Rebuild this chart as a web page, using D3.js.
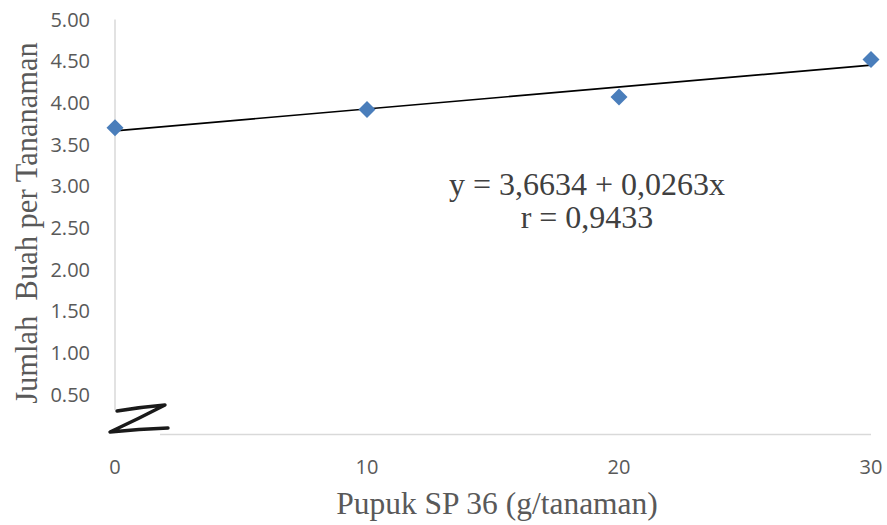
<!DOCTYPE html>
<html>
<head>
<meta charset="utf-8">
<script src="https://cdn.jsdelivr.net/npm/d3@7"></script>
<style>
  body { margin: 0; background: #fff; }
  svg { display: block; }
</style>
</head>
<body>
<svg width="887" height="525"></svg>
<script>
const svg = d3.select("svg");

// data
const doses = [0, 10, 20, 30];
const fruitCount = [3.70, 3.92, 4.07, 4.52];
const yTicks = [0.5, 1, 1.5, 2, 2.5, 3, 3.5, 4, 4.5, 5];
const xTicks = [0, 10, 20, 30];
const intercept = 3.6634;
const slope = 0.0263;
const eqLines = ["y = 3,6634 + 0,0263x", "r = 0,9433"];

const x = d3.scaleLinear().domain([0, 30]).range([115, 871]);
const y = d3.scaleLinear().domain([0, 5]).range([436, 19.5]);

const grey = "#595959";

// axis lines
svg.append("line")
  .attr("x1", x(0)).attr("x2", x(0))
  .attr("y1", y(5)).attr("y2", 410)
  .attr("stroke", "#d9d9d9").attr("stroke-width", 1.5);

svg.append("line")
  .attr("x1", 160).attr("x2", x(30))
  .attr("y1", 434.5).attr("y2", 434.5)
  .attr("stroke", "#d9d9d9").attr("stroke-width", 1.5);

// y tick labels
svg.selectAll(".ytick").data(yTicks).enter().append("text")
  .attr("class", "ytick")
  .attr("x", 90)
  .attr("y", d => y(d))
  .attr("dy", "0.36em")
  .attr("text-anchor", "end")
  .attr("font-family", "'Open Sans', 'Liberation Sans', sans-serif")
  .attr("font-size", 20)
  .attr("fill", grey)
  .text(d => d3.format(".2f")(d));

// x tick labels
svg.selectAll(".xtick").data(xTicks).enter().append("text")
  .attr("class", "xtick")
  .attr("x", d => x(d))
  .attr("y", 474)
  .attr("text-anchor", "middle")
  .attr("font-family", "'Open Sans', 'Liberation Sans', sans-serif")
  .attr("font-size", 20)
  .attr("fill", grey)
  .text(d => d);

// axis break mark
const brk = svg.append("g");
brk.append("path")
  .attr("d", "M98,432 L150,398 L185,414 L133,449 Z")
  .attr("fill", "#fff");
brk.append("path")
  .attr("d", "M117,411 Q141,407 165,405 Q138,419 110,432 Q139,429 168,428")
  .attr("fill", "none")
  .attr("stroke", "#1a1a1a")
  .attr("stroke-width", 3.4)
  .attr("stroke-linecap", "round")
  .attr("stroke-linejoin", "round");

// trend line
svg.append("line")
  .attr("x1", x(0)).attr("y1", y(intercept))
  .attr("x2", x(30)).attr("y2", y(intercept + slope * 30))
  .attr("stroke", "#000").attr("stroke-width", 1.6);

// markers
svg.selectAll(".pt").data(doses).enter().append("path")
  .attr("class", "pt")
  .attr("transform", (d, i) => `translate(${x(d)},${y(fruitCount[i])})`)
  .attr("d", d3.symbol(d3.symbolDiamond2, 185)())
  .attr("fill", "#4a7ebb");

// equation
svg.selectAll(".eq").data(eqLines).enter().append("text")
  .attr("class", "eq")
  .attr("x", 587)
  .attr("y", (d, i) => 195 + i * 33)
  .attr("text-anchor", "middle")
  .attr("font-family", "'Liberation Serif', serif")
  .attr("font-size", 32)
  .attr("fill", "#404040")
  .text(d => d);

// axis titles
svg.append("text")
  .attr("transform", "translate(37,223) rotate(-90)")
  .attr("text-anchor", "middle")
  .attr("font-family", "'Liberation Serif', serif")
  .attr("font-size", 30.5)
  .attr("fill", grey)
  .attr("xml:space", "preserve")
  .text("Jumlah  Buah per Tananaman");

svg.append("text")
  .attr("x", 497)
  .attr("y", 514)
  .attr("text-anchor", "middle")
  .attr("font-family", "'Liberation Serif', serif")
  .attr("font-size", 31.5)
  .attr("fill", grey)
  .text("Pupuk SP 36 (g/tanaman)");
</script>
</body>
</html>
